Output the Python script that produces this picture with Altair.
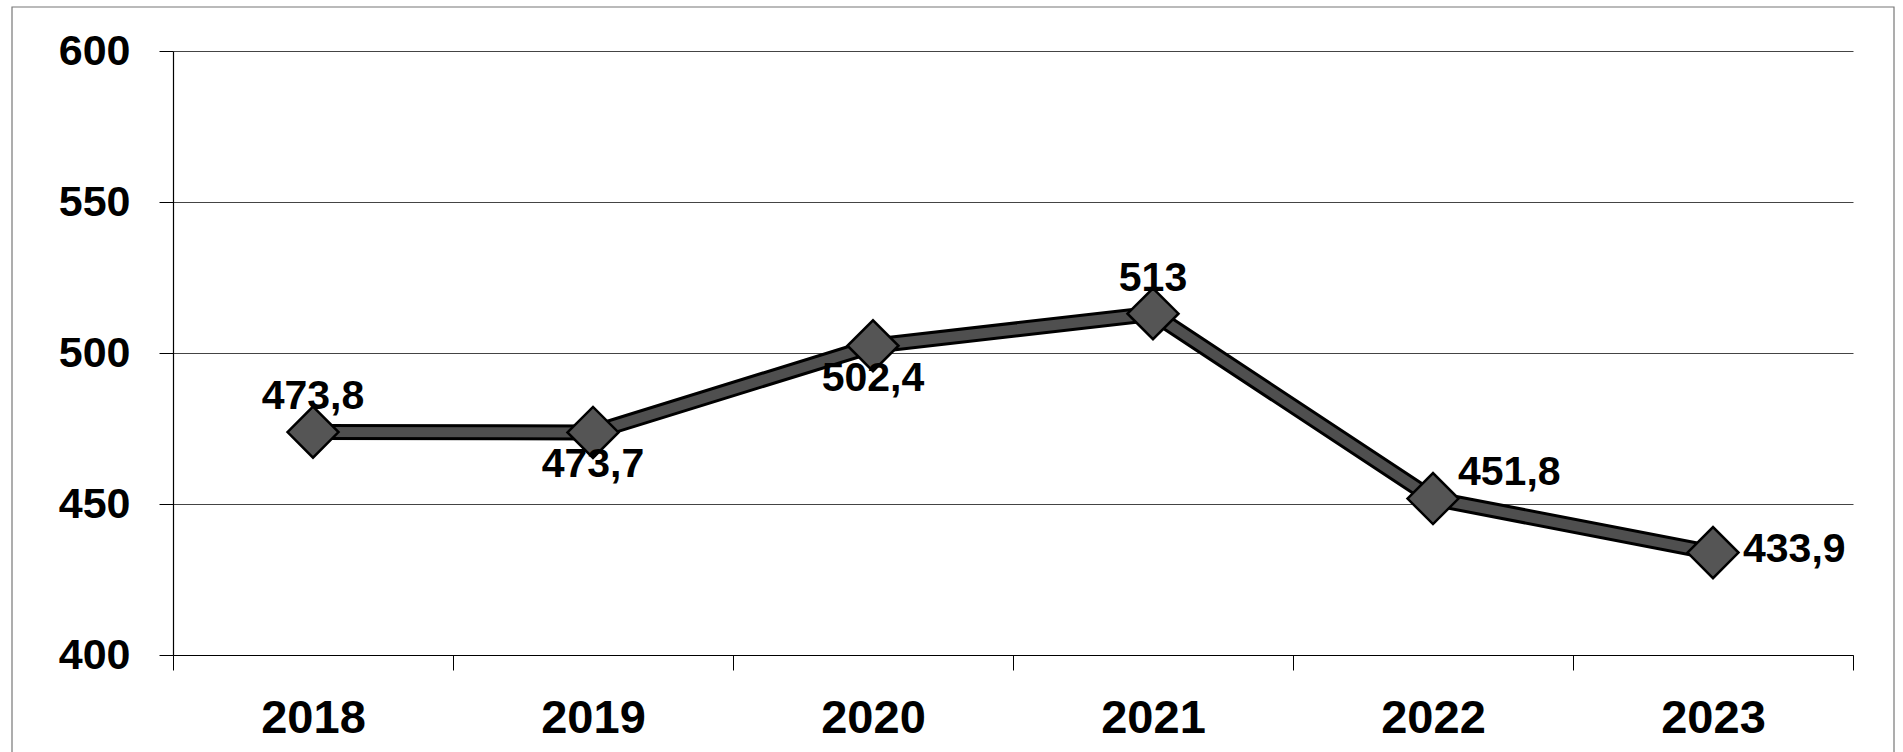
import altair as alt
import pandas as pd

# Yearly values shown on the chart
years = ["2018", "2019", "2020", "2021", "2022", "2023"]
values = [473.8, 473.7, 502.4, 513, 451.8, 433.9]
y_ticks = [400, 450, 500, 550, 600]

# Label groups by where the value text sits relative to its marker
labels_above = ["2018", "2021"]
labels_below = ["2019", "2020"]
labels_upper_right = ["2022"]
labels_right = ["2023"]


def fmt(v):
    s = f"{v:g}"
    return s.replace(".", ",")


df = pd.DataFrame({
    "year": years,
    "value": values,
    "label": [fmt(v) for v in values],
})

FONT = "Liberation Sans, Arial, sans-serif"

x_enc = alt.X(
    "year:N",
    sort=years,
    scale=alt.Scale(paddingInner=0, paddingOuter=0),
    axis=alt.Axis(
        title=None,
        labelAngle=0,
        labelFont=FONT,
        labelFontSize=47,
        labelFontWeight="bold",
        labelColor="black",
        labelPadding=25,
        tickBand="extent",
        tickSize=15,
        tickColor="black",
        tickWidth=1,
        domainColor="black",
        domainWidth=1.2,
        grid=False,
    ),
)
y_enc = alt.Y(
    "value:Q",
    scale=alt.Scale(domain=[400, 600], nice=False, zero=False),
    axis=alt.Axis(
        title=None,
        values=y_ticks,
        labelFont=FONT,
        labelFontSize=43,
        labelFontWeight="bold",
        labelColor="black",
        labelPadding=29,
        tickSize=14,
        tickColor="black",
        tickWidth=1,
        domainColor="black",
        domainWidth=1.2,
        grid=True,
        gridColor="#444",
        gridWidth=1,
    ),
)

base = alt.Chart(df).encode(x=x_enc, y=y_enc)

# Thick line: black outline with a dark grey core
line_outline = base.mark_line(color="black", strokeWidth=16, strokeJoin="round")
line_core = base.mark_line(color="#4f4f4f", strokeWidth=10, strokeJoin="round")

points = base.mark_point(
    shape="diamond", size=2600, filled=True, fill="#555555",
    stroke="black", strokeWidth=2.5, opacity=1,
)

text_style = dict(font=FONT, fontSize=41, fontWeight="bold", color="black")

lab_above = base.transform_filter(
    alt.FieldOneOfPredicate(field="year", oneOf=labels_above)
).mark_text(dy=-35, baseline="middle", align="center", **text_style).encode(text="label:N")

lab_below = base.transform_filter(
    alt.FieldOneOfPredicate(field="year", oneOf=labels_below)
).mark_text(dy=33, baseline="middle", align="center", **text_style).encode(text="label:N")

lab_upper_right = base.transform_filter(
    alt.FieldOneOfPredicate(field="year", oneOf=labels_upper_right)
).mark_text(dx=25, dy=-26, baseline="middle", align="left", **text_style).encode(text="label:N")

lab_right = base.transform_filter(
    alt.FieldOneOfPredicate(field="year", oneOf=labels_right)
).mark_text(dx=30, dy=-3, baseline="middle", align="left", **text_style).encode(text="label:N")

# Thin outer frame around the whole figure
frame = alt.Chart(pd.DataFrame({"f": [0]})).mark_rect(
    fill=None, stroke="#777", strokeWidth=1.2, clip=False,
).encode(
    x=alt.value(-161), x2=alt.value(1721),
    y=alt.value(-44), y2=alt.value(720),
)

chart = alt.layer(
    frame, line_outline, line_core, points,
    lab_above, lab_below, lab_upper_right, lab_right,
).properties(
    width=1680,
    height=604,
    autosize=alt.AutoSizeParams(type="none"),
    padding={"left": 173, "top": 51, "right": 50, "bottom": 97},
    background="white",
).configure_view(strokeWidth=0)

chart.save("out.html", embed_options={"renderer": "svg", "actions": False})
